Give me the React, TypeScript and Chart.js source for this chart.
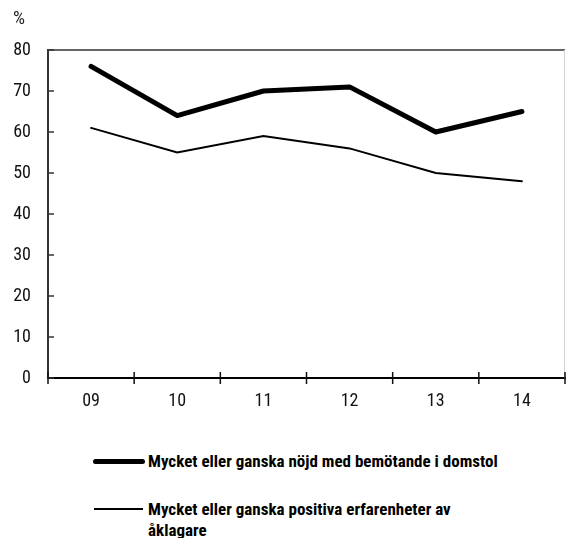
import React, { useEffect, useRef } from 'react';
import { Chart, registerables } from 'chart.js';

Chart.register(...registerables);

const categories = ['09', '10', '11', '12', '13', '14'];
const domstolValues = [76, 64, 70, 71, 60, 65];
const aklagareValues = [61, 55, 59, 56, 50, 48];
const seriesLabels = [
  'Mycket eller ganska nöjd med bemötande i domstol',
  'Mycket eller ganska positiva erfarenheter av åklagare',
];
const seriesWidths = [5, 2];
const yMin = 0;
const yMax = 80;
const yStep = 10;
const unitLabel = '%';

const FONT = '"Roboto Condensed", Roboto, sans-serif';

const framePlugin = {
  id: 'frame',
  beforeDatasetsDraw(chart: any) {
    const { ctx, chartArea: a, scales } = chart;
    const line = (x1: number, y1: number, x2: number, y2: number) => {
      ctx.beginPath();
      ctx.moveTo(x1, y1);
      ctx.lineTo(x2, y2);
      ctx.stroke();
    };
    ctx.save();
    ctx.strokeStyle = '#666';
    ctx.lineWidth = 2;
    line(a.left, a.top, a.right, a.top);
    ctx.strokeStyle = '#d4d4d4';
    ctx.lineWidth = 1;
    line(a.right - 0.5, a.top, a.right - 0.5, a.bottom);
    const y = scales.y;
    ctx.strokeStyle = '#333';
    ctx.lineWidth = 1.5;
    y.ticks.forEach((t: any) => {
      const py = y.getPixelForValue(t.value);
      line(a.left, py, a.left + 6, py);
    });
    const x = scales.x;
    const step = x.getPixelForValue(1) - x.getPixelForValue(0);
    ctx.strokeStyle = '#111';
    for (let i = 0; i <= categories.length; i++) {
      const px = x.getPixelForValue(0) - step / 2 + i * step;
      line(px, a.bottom - 6, px, a.bottom + 6);
    }
    ctx.restore();
  },
  afterDraw(chart: any) {
    const { ctx } = chart;
    ctx.save();
    ctx.font = `19px ${FONT}`;
    ctx.fillStyle = '#222';
    ctx.textBaseline = 'middle';
    ctx.textAlign = 'left';
    ctx.fillText(unitLabel, 13, 19);
    ctx.restore();
  },
};

export default function App() {
  const ref = useRef<HTMLCanvasElement>(null);

  useEffect(() => {
    if (!ref.current) return;
    const chart = new Chart(ref.current, {
      type: 'line',
      data: {
        labels: categories,
        datasets: [
          {
            label: seriesLabels[0],
            data: domstolValues,
            borderColor: '#000',
            borderWidth: seriesWidths[0],
            borderCapStyle: 'round',
            borderJoinStyle: 'round',
            pointRadius: 0,
            tension: 0,
          },
          {
            label: seriesLabels[1],
            data: aklagareValues,
            borderColor: '#000',
            borderWidth: seriesWidths[1],
            borderCapStyle: 'round',
            pointRadius: 0,
            tension: 0,
          },
        ],
      },
      options: {
        responsive: false,
        animation: false,
        layout: { padding: { top: 50, right: 1, bottom: 0, left: 0 } },
        plugins: {
          legend: { display: false },
          tooltip: { enabled: false },
          title: { display: false },
        },
        scales: {
          x: {
            type: 'category',
            offset: true,
            grid: { display: false, drawTicks: false },
            border: { display: true, color: '#000', width: 2 },
            ticks: { color: '#111', font: { family: FONT, size: 18 }, padding: 13, maxRotation: 0 },
            afterFit(s: any) {
              s.height = 32;
            },
          },
          y: {
            min: yMin,
            max: yMax,
            grid: { display: false, drawTicks: false },
            border: { display: true, color: '#333', width: 2 },
            ticks: { stepSize: yStep, color: '#111', font: { family: FONT, size: 18 }, padding: 17 },
            afterFit(s: any) {
              s.width = 48;
            },
          },
        },
      },
      plugins: [framePlugin],
    } as any);
    return () => chart.destroy();
  }, []);

  const textStyle: React.CSSProperties = {
    position: 'absolute',
    left: 148,
    fontFamily: FONT,
    fontWeight: 'bold',
    fontSize: 17,
    lineHeight: '21px',
    color: '#000',
  };

  return (
    <div style={{ position: 'absolute', left: 0, top: 0, width: 566, height: 538, background: '#fff' }}>
      <canvas ref={ref} width={566} height={410} style={{ position: 'absolute', left: 0, top: 0 }} />
      <div style={{ position: 'absolute', left: 93, top: 458.5, width: 52, height: seriesWidths[0], background: '#000', borderRadius: 2.5 }} />
      <div style={{ ...textStyle, top: 450.5, width: 400 }}>{seriesLabels[0]}</div>
      <div style={{ position: 'absolute', left: 94, top: 508, width: 49, height: seriesWidths[1], background: '#000' }} />
      <div style={{ ...textStyle, top: 498.5, width: 330 }}>{seriesLabels[1]}</div>
    </div>
  );
}
